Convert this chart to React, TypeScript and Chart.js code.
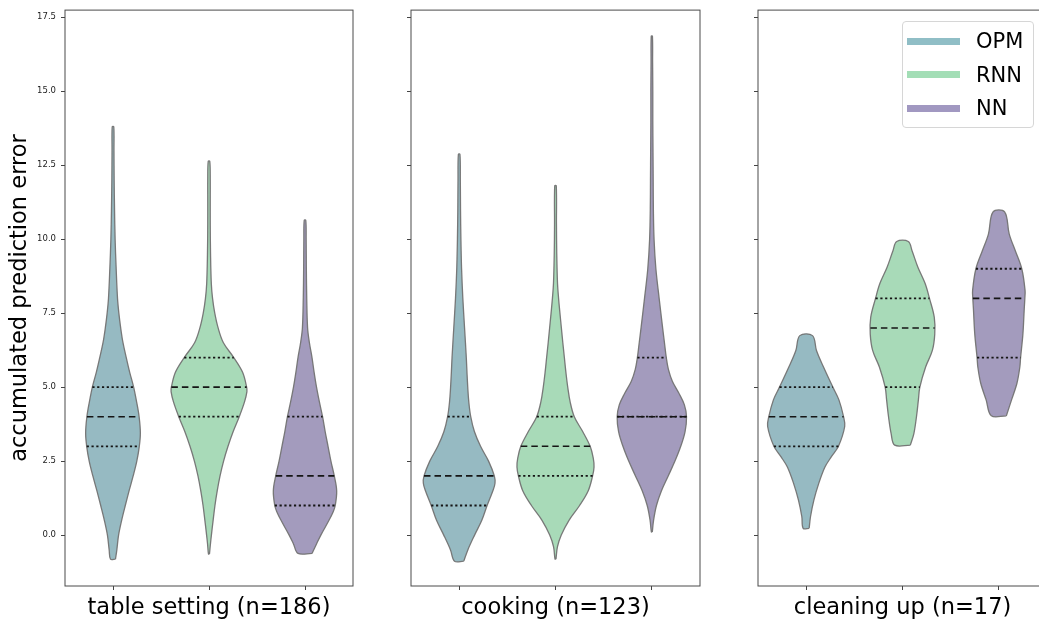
import React, { useEffect, useRef } from 'react';
import { Chart, registerables } from 'chart.js';

Chart.register(...registerables);

const FONT = "'DejaVu Sans', 'Liberation Sans', sans-serif";

const CATEGORIES = ['table setting (n=186)', 'cooking (n=123)', 'cleaning up (n=17)'];
const SERIES = ['OPM', 'RNN', 'NN'];
const FILL_COLORS = ['#96bac2', '#a8dab8', '#a39bbd'];
const LEGEND_COLORS = ['#90bec6', '#a3deb6', '#a198c1'];
const Y_TICKS = [0, 2.5, 5, 7.5, 10, 12.5, 15, 17.5];
const Y_TITLE = 'accumulated prediction error';

// Density outlines per task: [error value, half width of the violin in category units]
const OPM_TABLE = [
  [-0.81, 0.026], [-0.5, 0.04], [0, 0.058], [0.5, 0.09], [1.0, 0.128], [1.5, 0.168], [2.0, 0.21],
  [2.5, 0.248], [3.0, 0.274], [3.45, 0.285], [4.0, 0.272], [4.5, 0.246], [5.0, 0.215], [5.5, 0.174],
  [6.0, 0.138], [6.5, 0.104], [7.0, 0.08], [7.5, 0.061], [8.0, 0.047], [9.0, 0.033], [10.0, 0.022],
  [11.0, 0.016], [12.0, 0.012], [13.0, 0.01], [13.8, 0.008],
];
const RNN_TABLE = [
  [-0.64, 0.005], [-0.3, 0.015], [0, 0.025], [0.5, 0.043], [1.0, 0.062], [1.5, 0.086], [2.0, 0.115],
  [2.5, 0.152], [3.0, 0.198], [3.5, 0.252], [4.0, 0.315], [4.5, 0.37], [4.85, 0.395], [5.0, 0.392],
  [5.5, 0.35], [6.0, 0.258], [6.5, 0.15], [7.0, 0.095], [7.5, 0.06], [8.0, 0.037], [8.5, 0.024],
  [9.5, 0.016], [10.5, 0.013], [11.5, 0.013], [12.0, 0.013], [12.63, 0.008],
];
const NN_TABLE = [
  [-0.62, 0.073], [-0.3, 0.12], [0, 0.165], [0.5, 0.25], [0.8, 0.295], [1.0, 0.315], [1.5, 0.33],
  [2.0, 0.305], [2.5, 0.27], [3.0, 0.24], [3.5, 0.21], [4.0, 0.183], [4.5, 0.15], [5.0, 0.12],
  [5.5, 0.095], [6.0, 0.073], [6.5, 0.046], [7.0, 0.027], [8.0, 0.018], [9.0, 0.014], [10.0, 0.012],
  [10.64, 0.008],
];

const OPM_COOKING = [
  [-0.88, 0.048], [-0.5, 0.09], [0, 0.16], [0.5, 0.235], [1.0, 0.29], [1.5, 0.35], [1.75, 0.372],
  [2.0, 0.365], [2.5, 0.305], [3.0, 0.222], [3.5, 0.158], [4.0, 0.12], [4.5, 0.1], [5.0, 0.089],
  [5.5, 0.081], [6.0, 0.074], [7.0, 0.056], [8.0, 0.038], [9.0, 0.025], [10.0, 0.018], [11.0, 0.014],
  [12.0, 0.012], [12.87, 0.008],
];
const RNN_COOKING = [
  [-0.81, 0.005], [-0.4, 0.02], [0, 0.06], [0.5, 0.14], [1.0, 0.25], [1.5, 0.34], [2.0, 0.385],
  [2.3, 0.4], [2.6, 0.392], [3.0, 0.36], [3.5, 0.282], [4.0, 0.195], [4.5, 0.152], [5.0, 0.127],
  [5.5, 0.108], [6.0, 0.092], [6.5, 0.076], [7.0, 0.061], [7.5, 0.046], [8.0, 0.032], [8.5, 0.021],
  [9.5, 0.013], [10.5, 0.01], [11.8, 0.008],
];
const NN_COOKING = [
  [0.11, 0.005], [0.5, 0.018], [1.0, 0.048], [1.5, 0.1], [2.0, 0.17], [2.5, 0.24], [3.0, 0.3],
  [3.5, 0.345], [4.0, 0.36], [4.4, 0.338], [4.8, 0.28], [5.2, 0.213], [5.6, 0.172], [6.0, 0.15],
  [6.5, 0.131], [7.0, 0.112], [8.0, 0.076], [9.0, 0.042], [10.0, 0.023], [11.0, 0.016], [12.0, 0.014],
  [13.0, 0.012], [14.0, 0.01], [15.0, 0.01], [16.0, 0.008], [16.86, 0.006],
];

const OPM_CLEANING = [
  [0.23, 0.031], [0.62, 0.045], [1.18, 0.08], [1.74, 0.13], [2.3, 0.195], [2.65, 0.262], [3.0, 0.335],
  [3.67, 0.4], [4.0, 0.388], [4.57, 0.34], [5.0, 0.277], [5.68, 0.18], [6.24, 0.107], [6.74, 0.066],
];
const RNN_CLEANING = [
  [3.04, 0.081], [3.43, 0.118], [4.0, 0.145], [4.57, 0.165], [5.0, 0.18], [5.68, 0.24], [6.24, 0.31],
  [6.8, 0.335], [7.36, 0.33], [8.0, 0.28], [8.5, 0.235], [9.05, 0.16], [9.6, 0.1], [9.92, 0.06],
];
const NN_CLEANING = [
  [4.03, 0.078], [4.57, 0.132], [5.13, 0.188], [5.68, 0.218], [6.0, 0.226], [6.8, 0.25], [7.6, 0.263],
  [8.0, 0.27], [8.28, 0.272], [9.0, 0.238], [9.6, 0.172], [10.17, 0.108], [10.92, 0.06],
];

// Quartiles [Q1, median, Q3] per task
const OPM_QUARTILES = [[3, 4, 5], [1, 2, 4], [3, 4, 5]];
const RNN_QUARTILES = [[4, 5, 6], [2, 3, 4], [5, 7, 8]];
const NN_QUARTILES = [[1, 2, 4], [4, 4, 6], [6, 8, 9]];

const PROFILES = [
  [OPM_TABLE, OPM_COOKING, OPM_CLEANING],
  [RNN_TABLE, RNN_COOKING, RNN_CLEANING],
  [NN_TABLE, NN_COOKING, NN_CLEANING],
];
const QUARTILES = [OPM_QUARTILES, RNN_QUARTILES, NN_QUARTILES];

// Panel placement (plot-area pixel edges) for the three tasks
const CANVAS_W = 1060;
const CANVAS_H = 622;
const PANEL_LEFT = [65, 411, 758];
const PANEL_RIGHT = [353, 700, 1047];
const Y_AXIS_W = [65, 6, 6];

function widthAt(profile: number[][], v: number): number {
  for (let i = 0; i < profile.length - 1; i++) {
    const [v0, w0] = profile[i];
    const [v1, w1] = profile[i + 1];
    if (v >= v0 && v <= v1) return w0 + ((w1 - w0) * (v - v0)) / (v1 - v0);
  }
  return 0;
}

function outline(profile: number[][], center: number) {
  const right = profile.map(([v, w]) => ({ x: center + w, y: v }));
  const left = [...profile].reverse().map(([v, w]) => ({ x: center - w, y: v }));
  return [...right, ...left, right[0]];
}

const framePlugin = {
  id: 'frame',
  afterDatasetsDraw(chart: any) {
    const { ctx, chartArea: a } = chart;
    ctx.save();
    ctx.strokeStyle = '#4a4a4a';
    ctx.lineWidth = 1;
    ctx.strokeRect(a.left, a.top, a.right - a.left, a.bottom - a.top);
    ctx.restore();
  },
};

function buildConfig(p: number): any {
  const datasets: any[] = [];
  SERIES.forEach((name, s) => {
    const profile = PROFILES[s][p];
    datasets.push({
      label: name,
      data: outline(profile, s),
      fill: 'shape',
      backgroundColor: FILL_COLORS[s],
      borderColor: 'rgba(115,115,115,0.95)',
      borderWidth: 1.3,
      tension: 0.35,
      pointRadius: 0,
      order: 3,
    });
    const [q1, med, q3] = QUARTILES[s][p];
    [q1, q3, med].forEach((q, k) => {
      const w = widthAt(profile, q);
      const isMedian = k === 2;
      datasets.push({
        label: `${name} q${k}`,
        data: [{ x: s - w, y: q }, { x: s + w, y: q }],
        fill: false,
        borderColor: '#151515',
        borderWidth: isMedian ? 1.6 : 1.8,
        borderDash: isMedian ? [6.5, 4] : [2.2, 2.6],
        borderCapStyle: 'butt',
        pointRadius: 0,
        order: isMedian ? 1 : 2,
      });
    });
  });

  return {
    type: 'line',
    data: { datasets },
    options: {
      animation: false,
      responsive: false,
      events: [],
      layout: {
        padding: {
          left: PANEL_LEFT[p] - Y_AXIS_W[p],
          right: CANVAS_W - PANEL_RIGHT[p],
          top: 10,
          bottom: 0,
        },
      },
      plugins: { legend: { display: false }, tooltip: { enabled: false } },
      scales: {
        x: {
          type: 'linear',
          min: -0.5,
          max: 2.5,
          afterBuildTicks: (scale: any) => {
            scale.ticks = [0, 1, 2].map((value) => ({ value }));
          },
          afterFit: (scale: any) => {
            scale.height = 36;
          },
          grid: { display: true, drawOnChartArea: false, drawTicks: true, tickLength: 4, color: '#444' },
          border: { display: false },
          ticks: { callback: () => '', autoSkip: false, maxRotation: 0 },
          title: {
            display: true,
            text: CATEGORIES[p],
            font: { family: FONT, size: 22.5 },
            color: '#000',
            padding: { top: 0, bottom: 0.5 },
          },
        },
        y: {
          type: 'linear',
          min: -1.72,
          max: 17.74,
          afterBuildTicks: (scale: any) => {
            scale.ticks = Y_TICKS.map((value) => ({ value }));
          },
          afterFit: (scale: any) => {
            scale.width = Y_AXIS_W[p];
          },
          grid: { display: true, drawOnChartArea: false, drawTicks: true, tickLength: 4, color: '#444' },
          border: { display: false },
          ticks: {
            callback: (v: any) => (p === 0 ? Number(v).toFixed(1) : ''),
            autoSkip: false,
            font: { family: FONT, size: 8.5 },
            color: '#222',
            padding: 5,
          },
          title: {
            display: p === 0,
            text: Y_TITLE,
            font: { family: FONT, size: 22.5 },
            color: '#000',
            padding: { top: 7, bottom: 0 },
          },
        },
      },
    },
    plugins: [framePlugin],
  };
}

function Legend() {
  return (
    <div
      style={{
        position: 'absolute',
        left: 902,
        top: 21,
        width: 132,
        height: 107,
        border: '1px solid #d6d6d6',
        borderRadius: 4,
        background: 'rgba(255,255,255,0.85)',
        boxSizing: 'border-box',
        fontFamily: FONT,
        fontSize: 21,
        color: '#000',
      }}
    >
      {SERIES.map((name, i) => (
        <div key={name} style={{ position: 'absolute', left: 0, top: 19 + i * 33.5 - 14, height: 28, width: '100%' }}>
          <div
            style={{
              position: 'absolute',
              left: 4,
              top: 10.5,
              width: 53,
              height: 7,
              background: LEGEND_COLORS[i],
            }}
          />
          <span style={{ position: 'absolute', left: 73, top: 0, lineHeight: '28px', whiteSpace: 'nowrap' }}>{name}</span>
        </div>
      ))}
    </div>
  );
}

export default function App() {
  const r0 = useRef<HTMLCanvasElement>(null);
  const r1 = useRef<HTMLCanvasElement>(null);
  const r2 = useRef<HTMLCanvasElement>(null);
  const refs = [r0, r1, r2];

  useEffect(() => {
    const charts = refs.map((r, p) => new Chart(r.current as HTMLCanvasElement, buildConfig(p)));
    return () => charts.forEach((c) => c.destroy());
  }, []);

  return (
    <div
      style={{
        position: 'fixed',
        left: 0,
        top: 0,
        width: 1039,
        height: 622,
        overflow: 'hidden',
        background: '#fff',
      }}
    >
      {refs.map((r, i) => (
        <canvas
          key={i}
          ref={r}
          width={CANVAS_W}
          height={CANVAS_H}
          style={{ position: 'absolute', left: 0, top: 0, width: CANVAS_W, height: CANVAS_H }}
        />
      ))}
      <Legend />
    </div>
  );
}
